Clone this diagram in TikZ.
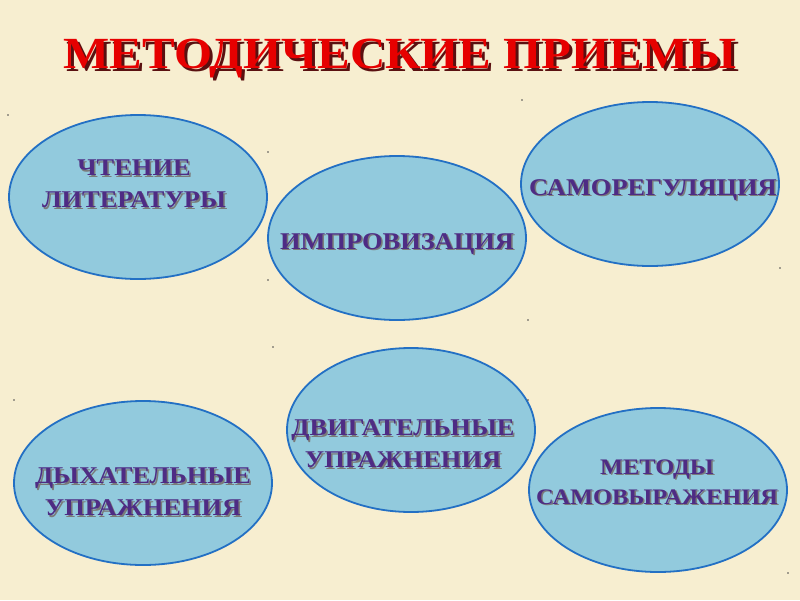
\documentclass[tikz,border=0pt]{standalone}
\usepackage{fontspec}
\setmainfont{Liberation Serif}
\newfontfamily\wideserif[FakeStretch=1.1]{Liberation Serif}
\usetikzlibrary{shapes.geometric}
\definecolor{paper}{HTML}{F7EED0}
\definecolor{ovalfill}{HTML}{92CADD}
\definecolor{ovalline}{HTML}{2370C4}
\definecolor{lbltext}{HTML}{4E2C84}
\definecolor{lblshadow}{HTML}{7A7A7A}
\definecolor{titlered}{HTML}{E60000}
\definecolor{titleshadow}{HTML}{5A1010}
\begin{document}
\begin{tikzpicture}[x=1pt,y=-1pt,
      oval/.style={ellipse,draw=ovalline,fill=ovalfill,line width=1.8pt,inner sep=0,
        minimum width=258pt,minimum height=164pt},
      lbl/.style={text=lbltext,align=center,font=\wideserif\bfseries\fontsize{24}{32}\selectfont},
      shd/.style={lbl,text=lblshadow},
      small/.style={font=\wideserif\bfseries\fontsize{22.2}{30}\selectfont},
      ttl/.style={text=titlered,font=\wideserif\bfseries\fontsize{44.5}{50}\selectfont},
      speck/.style={circle,fill=black!70,inner sep=0,minimum size=1.6pt} ]
      % background
      \fill[paper] (0,0) rectangle (800,600);

      % title
      \node[ttl,text=titleshadow] (ttlsh) at (403,62) {МЕТОДИЧЕСКИЕ ПРИЕМЫ};
      \node[ttl] (ttl) at (400,59) {МЕТОДИЧЕСКИЕ ПРИЕМЫ};

      % ovals
      \node[oval] (read) at (138,197) {};
      \node[oval] (impro) at (397,238) {};
      \node[oval] (selfreg) at (650,184) {};
      \node[oval,minimum width=248pt] (move) at (411,430) {};
      \node[oval] (breath) at (143,483) {};
      \node[oval] (expr) at (658,490) {};

      % labels
      \node[shd] (readsh) at ([shift={(1.5,1.5)}]read.center) [xshift=-4pt,yshift=13pt] {ЧТЕНИЕ\\ЛИТЕРАТУРЫ};
      \node[lbl] (readtx) at (read.center) [xshift=-4pt,yshift=13pt] {ЧТЕНИЕ\\ЛИТЕРАТУРЫ};
      \node[shd] (improsh) at ([shift={(1.5,1.5)}]impro.center) [yshift=-6pt] {ИМПРОВИЗАЦИЯ};
      \node[lbl] (improtx) at (impro.center) [yshift=-6pt] {ИМПРОВИЗАЦИЯ};
      \node[shd] (selfregsh) at ([shift={(1.5,1.5)}]selfreg.center) [xshift=3pt,yshift=-6pt] {САМОРЕГУЛЯЦИЯ};
      \node[lbl] (selfregtx) at (selfreg.center) [xshift=3pt,yshift=-6pt] {САМОРЕГУЛЯЦИЯ};
      \node[shd] (movesh) at ([shift={(1.5,1.5)}]move.center) [xshift=-8pt,yshift=-14pt] {ДВИГАТЕЛЬНЫЕ\\УПРАЖНЕНИЯ};
      \node[lbl] (movetx) at (move.center) [xshift=-8pt,yshift=-14pt] {ДВИГАТЕЛЬНЫЕ\\УПРАЖНЕНИЯ};
      \node[shd] (breathsh) at ([shift={(1.5,1.5)}]breath.center) [yshift=-9pt] {ДЫХАТЕЛЬНЫЕ\\УПРАЖНЕНИЯ};
      \node[lbl] (breathtx) at (breath.center) [yshift=-9pt] {ДЫХАТЕЛЬНЫЕ\\УПРАЖНЕНИЯ};
      \node[shd,small] (exprsh) at ([shift={(1.5,1.5)}]expr.center) [xshift=-1pt,yshift=8pt] {МЕТОДЫ\\САМОВЫРАЖЕНИЯ};
      \node[lbl,small] (exprtx) at (expr.center) [xshift=-1pt,yshift=8pt] {МЕТОДЫ\\САМОВЫРАЖЕНИЯ};

      % specks
      \foreach \px/\py [count=\i] in {8/115,268/152,522/100,780/268,268/280,528/320,273/347,14/400,528/400,788/573}
        \node[speck] (sp\i) at (\px,\py) {};
    \end{tikzpicture}
\end{document}
